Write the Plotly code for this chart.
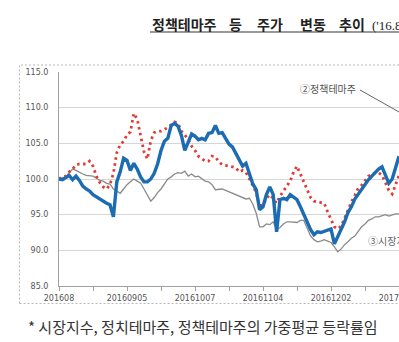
import plotly.graph_objects as go

# Trading-day index (0 = first session of Aug 2016)
days = list(range(0, 101))

# Weighted-average price index, policy theme stocks (thick blue)
policy_theme = [
    100.0, 99.9, 100.2, 100.5, 99.9, 100.4, 99.8, 99.0, 98.6, 98.3,
    97.8, 97.5, 97.2, 96.8, 96.6, 96.4, 94.7, 99.6, 101.0, 102.9,
    102.6, 101.2, 102.2, 101.4, 100.3, 99.6, 99.6, 100.0, 100.8, 102.1,
    104.0, 105.3, 105.7, 107.5, 107.8, 107.4, 106.1, 104.0, 105.2, 106.3,
    106.0, 105.5, 105.7, 105.5, 106.4, 106.5, 107.5, 106.4, 106.5, 105.6,
    104.9, 104.5, 103.6, 102.5, 101.8, 102.2, 100.9, 99.3, 98.5, 95.7,
    96.1, 97.8, 98.9, 97.8, 92.6, 97.1, 97.3, 97.1, 97.8, 97.5,
    97.1, 96.1, 95.0, 94.1, 92.9, 92.2, 92.6, 92.5, 92.7, 92.9,
    93.0, 90.9, 91.9, 93.0, 94.0, 95.3, 96.1, 97.2, 97.9, 98.6,
    99.2, 99.9, 100.4, 100.9, 101.4, 101.7, 100.6, 99.4, 100.0, 101.5,
    103.2,
]

# Weighted-average price index, political theme stocks (red dotted)
political_theme = [
    100.0, 100.3, 100.4, 101.0, 101.4, 102.0, 102.1, 102.1, 102.1, 102.5,
    101.8, 100.4, 99.5, 98.9, 98.6, 99.2, 100.8, 103.7, 104.8, 105.3,
    106.2, 106.6, 109.2, 108.4, 106.0, 103.8, 102.8, 105.4, 106.5, 106.7,
    106.7, 106.9, 107.2, 107.6, 108.0, 107.8, 106.7, 106.2, 105.5, 104.6,
    104.0, 103.2, 102.8, 102.5, 102.5, 103.2, 103.1, 102.4, 102.0, 101.9,
    101.9, 101.7, 101.6, 101.0, 101.2, 100.9, 100.1, 99.1, 98.1, 96.3,
    96.3, 97.3, 97.8, 97.3, 96.6, 97.6, 98.3, 99.0, 99.7, 101.0,
    101.8, 100.7, 99.6, 98.5, 97.4, 96.9, 96.8, 96.8, 96.6, 95.4,
    94.3, 93.3, 93.0, 93.4, 94.5, 95.7, 96.8, 97.7, 98.7, 99.1,
    99.8, 100.4, 100.6, 100.9, 100.9, 100.5, 99.5, 98.4, 97.9, 99.2,
    100.5,
]

# Market index (thin grey)
market_index = [
    100.0, 100.1, 100.3, 100.9, 101.4, 101.2, 100.9, 100.7, 100.5, 100.4,
    100.4, 100.1, 99.8, 99.7, 99.4, 99.3, 98.6, 98.3, 98.0, 98.6,
    99.2, 99.6, 100.0, 99.7, 99.4, 98.6, 97.7, 96.9, 97.4, 98.1,
    98.6, 99.3, 100.0, 100.3, 100.7, 100.9, 100.8, 101.1, 100.4, 100.7,
    100.3, 100.4, 100.0, 99.7, 99.6, 99.2, 98.5, 98.5, 98.6, 98.4,
    98.2, 98.0, 97.7, 97.6, 97.3, 97.2, 97.3, 96.5, 95.2, 93.3,
    93.3, 93.7, 93.6, 94.0, 92.9, 93.2, 93.7, 94.0, 94.0, 94.0,
    93.9, 94.2, 94.2, 93.1, 92.0, 91.5, 91.2, 91.3, 91.5, 91.3,
    91.1, 90.5, 89.8, 90.2, 90.8, 91.2, 91.7, 92.0, 92.6, 93.3,
    93.7, 94.2, 94.4, 94.7, 94.7, 94.8, 95.0, 94.8, 95.0, 95.1,
    95.1,
]

x_tick_vals = [0, 10, 20, 30, 40, 50, 60, 70, 80, 90, 100]
x_tick_text = ["201608", "", "20160905", "", "20161007", "", "20161104", "",
               "20161202", "", "20170102"]
y_tick_vals = [85, 90, 95, 100, 105, 110, 115]

title_words = ["정책테마주", "등", "주가", "변동", "추이"]
title_period = "('16.8 ~ '17.3)"
note_text = "* 시장지수, 정치테마주, 정책테마주의 가중평균 등락률임"
label_policy = "②정책테마주"
label_market = "③시장지수"

W, H = 399, 342
L, R, T, B = 59, 0, 72, 56
PW, PH = W - L - R, H - T - B


def px(xp):
    return (xp - L) / PW


def py(yp):
    return (H - B - yp) / PH


fig = go.Figure()
fig.add_trace(go.Scatter(
    x=days, y=market_index, mode="lines", name="시장지수",
    line=dict(color="#8a8a8a", width=1.3),
))
fig.add_trace(go.Scatter(
    x=days, y=political_theme, mode="lines", name="정치테마주",
    line=dict(color="#e23b35", width=2.8, dash="2.5px,3.5px"),
))
fig.add_trace(go.Scatter(
    x=days, y=policy_theme, mode="lines", name="정책테마주",
    line=dict(color="#1c6cb2", width=3.4),
))

korean = "Noto Sans CJK KR"


def note(text, xp, yp, anchor, family, size, color):
    return dict(text=text, xref="paper", yref="paper", x=px(xp), y=py(yp),
                xanchor=anchor, yanchor="middle", showarrow=False,
                font=dict(family=family, size=size, color=color))


# widely spaced title words, laid out left to right
word_left = [150, 227, 255, 298, 337]
annotations = [note("<b>" + w + "</b>", x0, 24, "left", korean, 14, "#222")
               for w, x0 in zip(title_words, word_left)]
annotations += [
    note(title_period, 370, 25, "left", "Liberation Serif", 13, "#222"),
    note(note_text, 26, 326, "left", korean, 15, "#333"),
    note(label_policy, 358, 89, "right", korean, 10, "#555"),
    note(label_market, 366, 240, "left", korean, 10, "#666"),
]

shapes = [
    # dotted outer frame of the chart block
    dict(type="rect", xref="paper", yref="paper",
         x0=px(19.5), x1=px(460), y0=py(303.5), y1=py(65),
         line=dict(color="#b8b8b8", width=1, dash="2px,2px")),
    # leader line from the policy-theme label
    dict(type="line", xref="paper", yref="paper",
         x0=px(360), y0=py(90), x1=px(440), y1=py(135),
         line=dict(color="#666", width=1)),
    # title underline
    dict(type="line", xref="paper", yref="paper",
         x0=px(150), y0=py(32), x1=px(460), y1=py(32),
         line=dict(color="#333", width=1)),
]

fig.update_layout(
    width=W, height=H,
    margin=dict(l=L, r=R, t=T, b=B, pad=0, autoexpand=False),
    paper_bgcolor="white", plot_bgcolor="white",
    showlegend=False,
    annotations=annotations, shapes=shapes,
    xaxis=dict(
        range=[0, 100], tickmode="array", tickvals=x_tick_vals, ticktext=x_tick_text,
        ticks="outside", ticklen=4, tickcolor="#a0a0a0", tickwidth=1,
        showline=True, linecolor="#a0a0a0", linewidth=1, automargin=False,
        showgrid=False, zeroline=False, ticklabeloverflow="allow",
        tickfont=dict(family="DejaVu Sans", size=8, color="#555"),
    ),
    yaxis=dict(
        range=[85, 115], tickmode="array", tickvals=y_tick_vals, tickformat=".1f",
        showline=True, linecolor="#a0a0a0", linewidth=1, automargin=False,
        showgrid=True, gridcolor="#d6d6d6", gridwidth=1,
        zeroline=False, ticks="", ticklabelstandoff=8,
        tickfont=dict(family="DejaVu Sans", size=8, color="#555"),
    ),
)

fig.write_html("out.html", config={"displayModeBar": False})
